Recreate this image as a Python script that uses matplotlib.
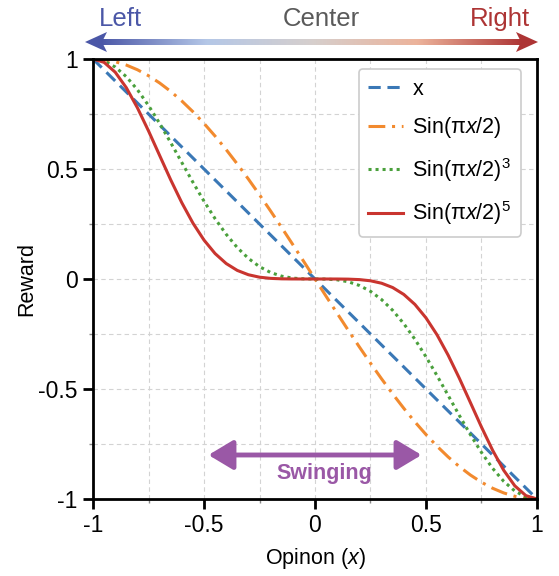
import matplotlib
matplotlib.use("Agg")
import matplotlib.pyplot as plt
import numpy as np
from matplotlib.colors import LinearSegmentedColormap
from matplotlib.patches import Polygon

plt.rcParams['font.family'] = ['Liberation Sans', 'DejaVu Sans']
plt.rcParams['mathtext.fontset'] = 'custom'
plt.rcParams['mathtext.rm'] = 'Liberation Sans'
plt.rcParams['mathtext.it'] = 'Liberation Sans:italic'

# opinion grid and the four reward curves
opinion = [-1.00, -0.95, -0.90, -0.85, -0.80, -0.75, -0.70, -0.65, -0.60, -0.55,
           -0.50, -0.45, -0.40, -0.35, -0.30, -0.25, -0.20, -0.15, -0.10, -0.05,
           0.00, 0.05, 0.10, 0.15, 0.20, 0.25, 0.30, 0.35, 0.40, 0.45,
           0.50, 0.55, 0.60, 0.65, 0.70, 0.75, 0.80, 0.85, 0.90, 0.95, 1.00]
r_lin = [1.00, 0.95, 0.90, 0.85, 0.80, 0.75, 0.70, 0.65, 0.60, 0.55,
         0.50, 0.45, 0.40, 0.35, 0.30, 0.25, 0.20, 0.15, 0.10, 0.05,
         0.00, -0.05, -0.10, -0.15, -0.20, -0.25, -0.30, -0.35, -0.40, -0.45,
         -0.50, -0.55, -0.60, -0.65, -0.70, -0.75, -0.80, -0.85, -0.90, -0.95, -1.00]
r_sin = [1.0000, 0.9969, 0.9877, 0.9724, 0.9511, 0.9239, 0.8910, 0.8526, 0.8090, 0.7604,
         0.7071, 0.6494, 0.5878, 0.5225, 0.4540, 0.3827, 0.3090, 0.2334, 0.1564, 0.0785,
         0.0000, -0.0785, -0.1564, -0.2334, -0.3090, -0.3827, -0.4540, -0.5225, -0.5878, -0.6494,
         -0.7071, -0.7604, -0.8090, -0.8526, -0.8910, -0.9239, -0.9511, -0.9724, -0.9877, -0.9969, -1.0000]
r_sin3 = [1.0000, 0.9907, 0.9636, 0.9195, 0.8604, 0.7886, 0.7074, 0.6198, 0.5295, 0.4397,
          0.3536, 0.2739, 0.2031, 0.1426, 0.0936, 0.0560, 0.0295, 0.0127, 0.0038, 0.0005,
          0.0000, -0.0005, -0.0038, -0.0127, -0.0295, -0.0560, -0.0936, -0.1426, -0.2031, -0.2739,
          -0.3536, -0.4397, -0.5295, -0.6198, -0.7074, -0.7886, -0.8604, -0.9195, -0.9636, -0.9907, -1.0000]
r_sin5 = [1.0000, 0.9846, 0.9400, 0.8694, 0.7782, 0.6731, 0.5616, 0.4506, 0.3466, 0.2542,
          0.1768, 0.1155, 0.0702, 0.0389, 0.0193, 0.0082, 0.0028, 0.0007, 0.0001, 0.0000,
          0.0000, -0.0000, -0.0001, -0.0007, -0.0028, -0.0082, -0.0193, -0.0389, -0.0702, -0.1155,
          -0.1768, -0.2542, -0.3466, -0.4506, -0.5616, -0.6731, -0.7782, -0.8694, -0.9400, -0.9846, -1.0000]

labels = ['x', 'Sin(π$x$/2)', 'Sin(π$x$/2)$^3$', 'Sin(π$x$/2)$^5$']
ticks = [-1, -0.5, 0, 0.5, 1]
tick_labels = ['-1', '-0.5', '0', '0.5', '1']
swing_range = [-0.48, 0.48]

fig = plt.figure(figsize=(5.59, 5.76), dpi=100)
ax = fig.add_axes([0.1664, 0.1337, 0.7942, 0.7639])

ax.plot(opinion, r_lin, color='#3a78b6', lw=2.2, dashes=(4, 2.2), label=labels[0])
ax.plot(opinion, r_sin, color='#f28a2e', lw=2.2, dashes=(5.5, 2.2, 1, 2.2), label=labels[1])
ax.plot(opinion, r_sin3, color='#4aa03c', lw=2.2, dashes=(1, 1.3), label=labels[2])
ax.plot(opinion, r_sin5, color='#c9352f', lw=2.2, label=labels[3])

ax.set_xlim(-1, 1)
ax.set_ylim(-1, 1)
ax.set_xticks(ticks)
ax.set_xticklabels(tick_labels)
ax.set_yticks(ticks)
ax.set_yticklabels(tick_labels)
ax.set_xticks([-0.75, -0.25, 0.25, 0.75], minor=True)
ax.set_yticks([-0.75, -0.25, 0.25, 0.75], minor=True)
ax.tick_params(which='major', length=7, width=2, labelsize=16.5, pad=4)
ax.tick_params(which='minor', length=3, width=1, color='#888888')
ax.grid(which='both', ls=(0, (4, 3)), color='#d3d3d3', lw=0.8)
ax.set_axisbelow(True)
for sp in ax.spines.values():
    sp.set_linewidth(2)

ax.set_xlabel('Opinon ($x$)', fontsize=15.5, labelpad=6)
ax.set_ylabel('Reward', fontsize=15.5)
ax.yaxis.set_label_coords(-0.126, 0.5)

leg = ax.legend(loc='upper right', bbox_to_anchor=(0.964, 0.977), fontsize=15.5,
                frameon=True, fancybox=True, edgecolor='#cccccc', framealpha=1,
                handlelength=1.6, labelspacing=0.72, borderpad=0.45, handletextpad=0.45,
                borderaxespad=0)
leg.get_frame().set_linewidth(1.2)

# swinging arrow
purple = '#9a58a6'
ax.annotate('', xy=(swing_range[1], -0.8), xytext=(swing_range[0], -0.8),
            arrowprops=dict(arrowstyle='<|-|>,head_length=0.5,head_width=0.3',
                            color=purple, lw=3.5, mutation_scale=30,
                            shrinkA=0, shrinkB=0))
ax.text(0.04, -0.885, 'Swinging', color=purple, fontsize=15.5, fontweight='bold',
        ha='center', va='center')

# top gradient arrow, in pixel coordinates of the figure
over = fig.add_axes([0, 0, 1, 1])
over.axis('off')
cmap = LinearSegmentedColormap.from_list('lr', ['#4b57a7', '#b4c7e7', '#d6cfcd', '#ecb39b', '#ad3434'])
over.imshow(np.linspace(0, 1, 256).reshape(1, -1), cmap=cmap, aspect='auto',
            extent=(100, 524, 44.6, 39.4), interpolation='bilinear')
over.set_xlim(0, 559)
over.set_ylim(576, 0)
over.add_patch(Polygon([(85, 42), (107, 32), (102, 42), (107, 52)], closed=True,
                       color=cmap(0.0), lw=0))
over.add_patch(Polygon([(538, 42), (516, 32), (521, 42), (516, 52)], closed=True,
                       color=cmap(1.0), lw=0))
over.text(120, 26, 'Left', color='#4b57a7', fontsize=18.5, ha='center', va='baseline')
over.text(321, 26, 'Center', color='#5a5a5a', fontsize=18.5, ha='center', va='baseline')
over.text(500, 26, 'Right', color='#ad3434', fontsize=18.5, ha='center', va='baseline')

fig.savefig('out.png', dpi=100)
